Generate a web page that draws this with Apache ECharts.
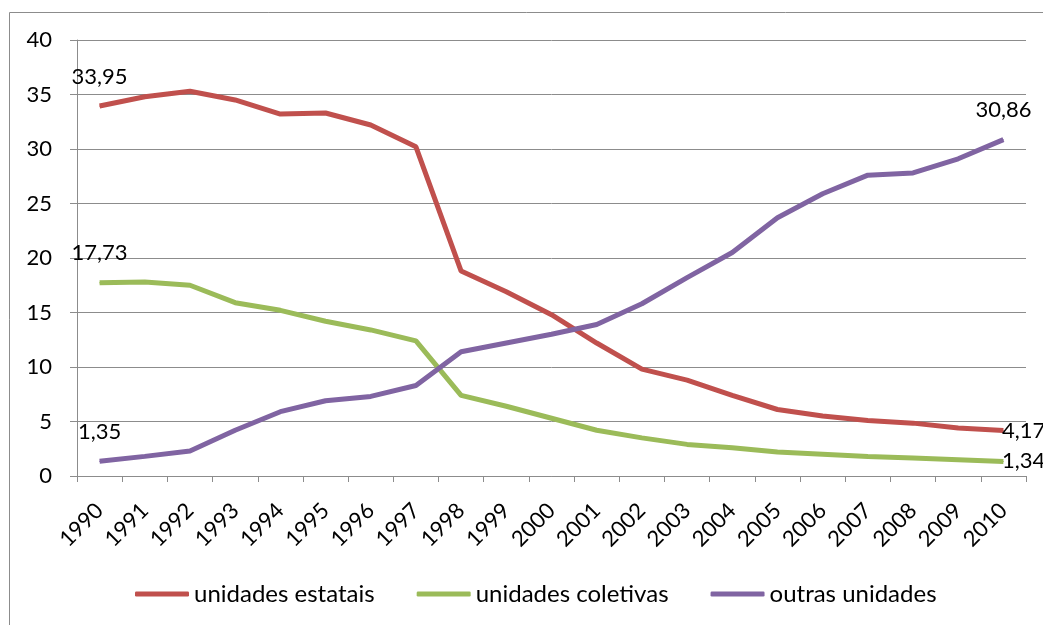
<!DOCTYPE html>
<html>
<head>
<meta charset="utf-8">
<script src="https://cdn.jsdelivr.net/npm/echarts@6/dist/echarts.min.js"></script>
<style>
	html, body { margin: 0; padding: 0; background: #fff; }
	#chart { width: 1043px; height: 625px; }
</style>
</head>
<body>
<div id="chart"></div>
<script>
	// categories and values
	var years = ['1990','1991','1992','1993','1994','1995','1996','1997','1998','1999','2000',
		'2001','2002','2003','2004','2005','2006','2007','2008','2009','2010'];
	var estatais = [33.95, 34.8, 35.3, 34.5, 33.2, 33.3, 32.2, 30.2, 18.8, 16.9, 14.8,
		12.2, 9.8, 8.8, 7.4, 6.1, 5.5, 5.1, 4.85, 4.4, 4.17];
	var coletivas = [17.73, 17.8, 17.5, 15.9, 15.2, 14.2, 13.4, 12.4, 7.4, 6.4, 5.3,
		4.2, 3.5, 2.9, 2.6, 2.2, 2.0, 1.8, 1.65, 1.5, 1.34];
	var outras = [1.35, 1.8, 2.3, 4.2, 5.9, 6.9, 7.3, 8.3, 11.4, 12.2, 13.0,
		13.9, 15.8, 18.2, 20.5, 23.7, 25.9, 27.6, 27.8, 29.1, 30.86];
	var yTicks = [0, 5, 10, 15, 20, 25, 30, 35, 40];

	var font = 'Lato, "Open Sans", sans-serif';
	var lastIdx = years.length - 1;

	function fmt(p) {
		return String(p.value).replace('.', ',');
	}

	// only first and last points get a label
	function withLabels(arr, lastLabel) {
		return arr.map(function(v, i){
			if(i === 0){
				return { value: v, label: { show: true, position: 'top', distance: 18 } };
			}
			if(i === lastIdx){
				return { value: v, label: lastLabel };
			}
			return v;
		});
	}

	var rightLabel = { show: true, position: 'right', distance: -2 };
	var topLabel = { show: true, position: 'top', distance: 18, offset: [-16, 0] };

	function lineSeries(name, color, arr, lastLabel) {
		return {
			name: name,
			type: 'line',
			data: withLabels(arr, lastLabel),
			symbol: 'circle',
			symbolSize: 1,
			showSymbol: true,
			showAllSymbol: true,
			smooth: false,
			lineStyle: { color: color, width: 5 },
			itemStyle: { color: color },
			label: { show: false, color: '#000', fontFamily: font, fontSize: 22, formatter: fmt },
			labelLayout: { hideOverlap: false },
			emphasis: { disabled: true }
		};
	}

	var chart = echarts.init(document.getElementById('chart'));
	var option = {
		backgroundColor: '#ffffff',
		animation: false,
		graphic: [{
			type: 'rect',
			shape: { x: 9.5, y: 12.5, width: 1100, height: 700 },
			style: { fill: 'none', stroke: '#8c8c8c', lineWidth: 1 },
			silent: true
		}],
		grid: { left: 77, right: 17, top: 40, bottom: 149, containLabel: false },
		legend: {
			left: 130,
			top: 577,
			itemWidth: 54,
			itemHeight: 5,
			itemGap: 42,
			icon: 'roundRect',
			selectedMode: false,
			textStyle: { color: '#000', fontFamily: font, fontSize: 24, padding: [0, 0, 0, 0] },
			data: ['unidades estatais', 'unidades coletivas', 'outras unidades']
		},
		xAxis: {
			type: 'category',
			data: years,
			boundaryGap: true,
			axisLine: { lineStyle: { color: '#8c8c8c', width: 1 } },
			axisTick: { show: true, length: 6, alignWithLabel: false, lineStyle: { color: '#8c8c8c' } },
			axisLabel: { rotate: 45, color: '#000', fontFamily: font, fontSize: 22, margin: 31, interval: 0 },
			splitLine: { show: false }
		},
		yAxis: {
			type: 'value',
			min: yTicks[0],
			max: yTicks[yTicks.length - 1],
			interval: 5,
			axisLine: { show: true, lineStyle: { color: '#8c8c8c', width: 1 } },
			axisTick: { show: true, length: 7, lineStyle: { color: '#8c8c8c' } },
			axisLabel: { color: '#000', fontFamily: font, fontSize: 22, margin: 25 },
			splitLine: { show: true, lineStyle: { color: '#8c8c8c', width: 1 } }
		},
		series: [
			lineSeries('unidades estatais', '#c0504d', estatais, rightLabel),
			lineSeries('unidades coletivas', '#9bbb59', coletivas, rightLabel),
			lineSeries('outras unidades', '#8064a2', outras, topLabel)
		]
	};
	chart.setOption(option);
	window.addEventListener('resize', function(){
		chart.resize();
	});
</script>
</body>
</html>
